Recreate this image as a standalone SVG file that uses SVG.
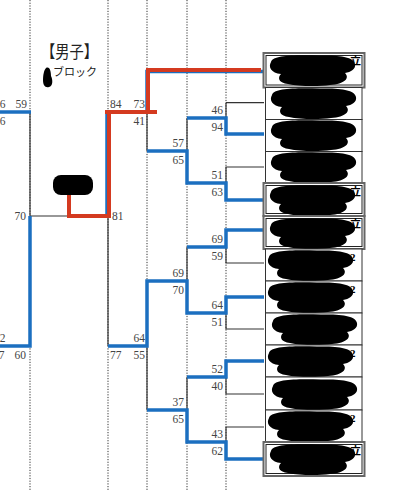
<svg xmlns="http://www.w3.org/2000/svg" width="413" height="500" viewBox="0 0 413 500">
<style>
.dot{stroke:#333;stroke-width:1;stroke-dasharray:1.2 1.5;fill:none}
.k{stroke:#333;stroke-width:1.2;fill:none}
.b{stroke:#1b6fc0;stroke-width:3.5;fill:none}
.r{stroke:#d43a20;stroke-width:4;fill:none}
.sc{font-family:"Liberation Serif",serif;font-size:11.5px;fill:#444}
.e{text-anchor:end}
.cell{fill:#fff;stroke:#333;stroke-width:1}
.outer{fill:#fff;stroke:#666;stroke-width:2}
.inner{fill:none;stroke:#222;stroke-width:1}
.frag{font-family:"Liberation Serif","Noto Sans CJK JP",serif;font-size:11px;font-weight:bold;fill:#000}
</style>
<defs>
<path id="blob" d="M7 8 C9 1,30 1,55 1.5 C76 1,90 3,91 10 C92 15,87 18,81 19 C86 24,81 30,66 31 C55 32.5,35 32.5,24 30 C15 29,13 24,17 20 C7 19,4 13,7 8 Z" fill="#000"/>
</defs>
<rect width="413" height="500" fill="#fff"/>
<g id="grid">
<line class="dot" x1="30" y1="0" x2="30" y2="490"/>
<line class="dot" x1="108" y1="0" x2="108" y2="490"/>
<line class="dot" x1="147" y1="0" x2="147" y2="490"/>
<line class="dot" x1="187" y1="0" x2="187" y2="490"/>
<line class="dot" x1="226" y1="0" x2="226" y2="490"/>
</g>
<g id="title">
<text x="41" y="58" font-family="Noto Sans CJK JP,sans-serif" font-size="17" fill="#222" textLength="57" lengthAdjust="spacingAndGlyphs">【男子】</text>
<path d="M46 68 C50 66,51 72,51 76 C53 80,53 86,49 87 C45 88,43 85,43 80 C43 75,44 70,46 68 Z" fill="#000"/>
<text x="53" y="76" font-family="Noto Sans CJK JP,sans-serif" font-size="11" fill="#222">ブロック</text>
</g>
<g id="connectors">
<path class="k" d="M226 102.7 H264 M226 102.7 V118 M264 167 H226 V183 M187 118 V151 M147 112 V151 M264 263 H226 V247 M187 247 V281 M264 329 H226 V313 M264 394 H226 V377 M187 377 V410 M264 427 H226 V442 M147 346 V410 M108 216 V346 M30 112 V216 H69"/>
<path class="b" d="M0 112 H31"/>
<path class="b" d="M0 346 H30 V216"/>
<path class="b" d="M264 71.5 H147 V112 H107 V216"/>
<path class="b" d="M187 118 H226 V134 H264"/>
<path class="b" d="M147 151 H187 V183 H226 V200 H264"/>
<path class="b" d="M187 247 H226 V230 H264"/>
<path class="b" d="M108 346 H147 V281 H187 V313 H226 V297 H264"/>
<path class="b" d="M187 377 H226 V361 H264"/>
<path class="b" d="M147 410 H187 V442 H226 V459 H264"/>
<path class="r" d="M261 70 H148 V112"/>
<path class="r" d="M157 112 H105"/>
<path class="r" d="M109 112 V216 H69 V193"/>
</g>
<g id="winner">
<rect x="53" y="175" width="40" height="20" rx="8" fill="#000"/>
</g>
<g id="scores">
<text class="sc e" x="5.5" y="108">6</text>
<text class="sc e" x="27" y="108">59</text>
<text class="sc e" x="5.5" y="125">6</text>
<text class="sc e" x="26" y="220">70</text>
<text class="sc e" x="5.5" y="342">2</text>
<text class="sc e" x="4.5" y="359">7</text>
<text class="sc e" x="26" y="359">60</text>
<text class="sc" x="110" y="108">84</text>
<text class="sc e" x="145" y="108">73</text>
<text class="sc e" x="145" y="125">41</text>
<text class="sc" x="112" y="220">81</text>
<text class="sc" x="110" y="359">77</text>
<text class="sc e" x="145" y="342">64</text>
<text class="sc e" x="145" y="359">55</text>
<text class="sc e" x="184" y="147">57</text>
<text class="sc e" x="184" y="164">65</text>
<text class="sc e" x="184" y="277">69</text>
<text class="sc e" x="184" y="294">70</text>
<text class="sc e" x="184" y="406">37</text>
<text class="sc e" x="184" y="423">65</text>
<text class="sc e" x="223" y="114">46</text>
<text class="sc e" x="223" y="131">94</text>
<text class="sc e" x="223" y="179">51</text>
<text class="sc e" x="223" y="196">63</text>
<text class="sc e" x="223" y="243">69</text>
<text class="sc e" x="223" y="260">59</text>
<text class="sc e" x="223" y="309">64</text>
<text class="sc e" x="223" y="326">51</text>
<text class="sc e" x="223" y="373">52</text>
<text class="sc e" x="223" y="390">40</text>
<text class="sc e" x="223" y="438">43</text>
<text class="sc e" x="223" y="455">62</text>
</g>
<g id="team1"><rect class="outer" x="263.5" y="53" width="101" height="34.5"/><rect class="inner" x="266" y="55.5" width="96" height="29.5"/><use href="#blob" x="264" y="54"/><text class="frag" x="350" y="65">立</text></g>
<g id="team2"><rect class="cell" x="265.5" y="87.5" width="96.5" height="32"/><use href="#blob" x="265" y="87"/></g>
<g id="team3"><rect class="cell" x="265.5" y="119.5" width="96.5" height="32"/><use href="#blob" x="265" y="119"/></g>
<g id="team4"><rect class="cell" x="265.5" y="151.5" width="96.5" height="32"/><use href="#blob" x="265" y="151"/></g>
<g id="team5"><rect class="outer" x="263.5" y="183" width="101" height="33"/><rect class="inner" x="266" y="185.5" width="96" height="28"/><use href="#blob" x="264" y="184"/><text class="frag" x="350" y="196">立</text></g>
<g id="team6"><rect class="outer" x="263.5" y="216" width="101" height="33"/><rect class="inner" x="266" y="218.5" width="96" height="28"/><use href="#blob" x="264" y="217"/><text class="frag" x="350" y="228">立</text></g>
<g id="team7"><rect class="cell" x="265.5" y="249" width="96.5" height="32"/><use href="#blob" x="262" y="249"/><text class="frag" x="350" y="261">2</text></g>
<g id="team8"><rect class="cell" x="265.5" y="281" width="96.5" height="32"/><use href="#blob" x="262" y="281"/><text class="frag" x="350" y="293">2</text></g>
<g id="team9"><rect class="cell" x="265.5" y="313" width="96.5" height="32"/><use href="#blob" x="266" y="313"/></g>
<g id="team10"><rect class="cell" x="265.5" y="345" width="96.5" height="32"/><use href="#blob" x="262" y="345"/><text class="frag" x="350" y="357">2</text></g>
<g id="team11"><rect class="cell" x="265.5" y="377" width="96.5" height="33"/><use href="#blob" x="266" y="378"/></g>
<g id="team12"><rect class="cell" x="265.5" y="410" width="96.5" height="32"/><use href="#blob" x="262" y="410"/><text class="frag" x="350" y="422">2</text></g>
<g id="team13"><rect class="outer" x="263.5" y="442" width="101" height="34"/><rect class="inner" x="266" y="444.5" width="96" height="29"/><use href="#blob" x="264" y="443"/><text class="frag" x="350" y="455">立</text></g>
</svg>
